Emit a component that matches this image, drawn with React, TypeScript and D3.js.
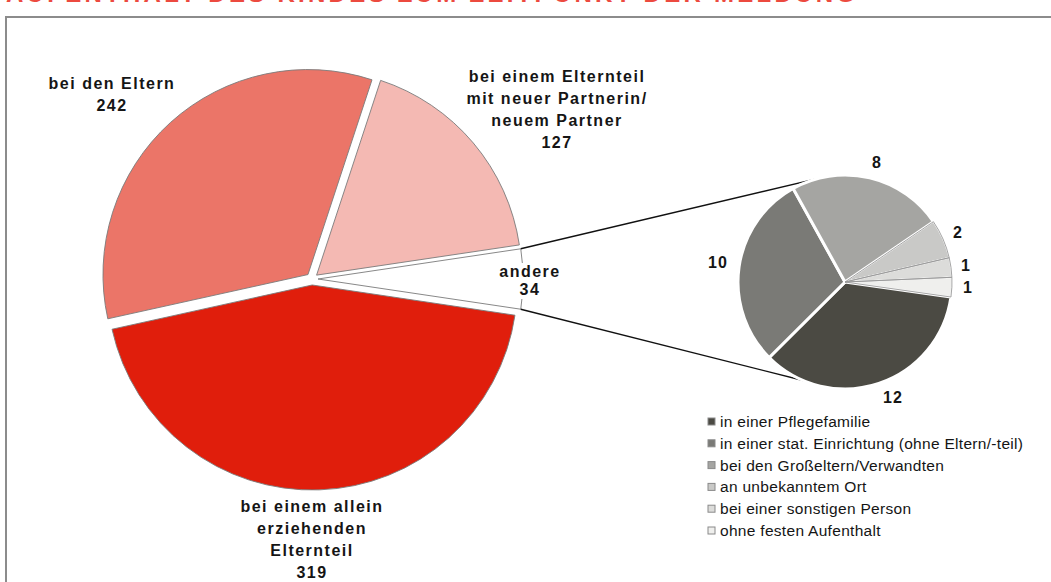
import React from "react";
import * as d3 from "d3";

const titleText = "AUFENTHALT DES KINDES ZUM ZEITPUNKT DER MELDUNG";

const mainCategories = [
  "bei den Eltern",
  "bei einem Elternteil mit neuer Partnerin/neuem Partner",
  "andere",
  "bei einem allein erziehenden Elternteil",
];
const mainValues = [242, 127, 34, 319];
const mainLabelLines = [
  ["bei den Eltern"],
  ["bei einem Elternteil", "mit neuer Partnerin/", "neuem Partner"],
  ["andere"],
  ["bei einem allein", "erziehenden", "Elternteil"],
];
const mainColors = ["#eb7568", "#f4b9b3", "#ffffff", "#e01e0c"];

const otherCategories = [
  "in einer Pflegefamilie",
  "in einer stat. Einrichtung (ohne Eltern/-teil)",
  "bei den Großeltern/Verwandten",
  "an unbekanntem Ort",
  "bei einer sonstigen Person",
  "ohne festen Aufenthalt",
];
const otherValues = [12, 10, 8, 2, 1, 1];
const otherColors = ["#4b4a43", "#7a7a76", "#a5a5a2", "#c9c9c7", "#dcdcda", "#efefed"];

// layout
const W = 1051, H = 582;
const mainC = { x: 312, y: 279 };
const mainR = 205;
const explode = 6;
const smallC = { x: 845, y: 282 };
const smallR = 107;
const deg = Math.PI / 180;

const mainLabelPos = [
  { x: 112, y: 89, step: 21.5 },
  { x: 557, y: 82, step: 22 },
  { x: 530, y: 277, step: 18 },
  { x: 312, y: 512, step: 22 },
];
const smallLabelPos = [
  { x: 893, y: 403 },
  { x: 718, y: 268 },
  { x: 877, y: 168 },
  { x: 958, y: 238 },
  { x: 966, y: 271 },
  { x: 968, y: 293 },
];

export default function App() {
  const total = d3.sum(mainValues);
  // center "andere" at 3 o'clock
  const before = mainValues[0] + mainValues[1] + mainValues[2] / 2;
  const start = (90 - (before / total) * 360) * deg;
  const mainPie = d3.pie<number>().sort(null).startAngle(start).endAngle(start + 2 * Math.PI);
  const mainArcs = mainPie(mainValues);
  const arc = d3.arc<d3.PieArcDatum<number>>().innerRadius(0).outerRadius(mainR);

  const otherTotal = d3.sum(otherValues);
  const smallStart = (-29 + ((otherValues[2] + otherValues[3] + otherValues[4] + otherValues[5]) / otherTotal) * 360) * deg;
  const smallPie = d3.pie<number>().sort(null).startAngle(smallStart).endAngle(smallStart + 2 * Math.PI);
  const smallArcs = smallPie(otherValues);
  const sArc = d3.arc<d3.PieArcDatum<number>>().innerRadius(0).outerRadius(smallR);

  const offs = mainArcs.map((a) => {
    const m = (a.startAngle + a.endAngle) / 2;
    return { dx: explode * Math.sin(m), dy: -explode * Math.cos(m) };
  });

  const andere = mainArcs[2];
  const ao = offs[2];
  const p1 = {
    x: mainC.x + ao.dx + mainR * Math.sin(andere.startAngle),
    y: mainC.y + ao.dy - mainR * Math.cos(andere.startAngle),
  };
  const p2 = {
    x: mainC.x + ao.dx + mainR * Math.sin(andere.endAngle),
    y: mainC.y + ao.dy - mainR * Math.cos(andere.endAngle),
  };
  const q1 = { x: smallC.x + smallR * Math.sin(-12 * deg), y: smallC.y - smallR * Math.cos(-12 * deg) };
  const q2 = { x: smallC.x + smallR * Math.sin(203 * deg), y: smallC.y - smallR * Math.cos(203 * deg) };

  const labelFont = "'Liberation Sans', Arial, sans-serif";

  return (
    <svg
      width={W}
      height={H}
      style={{ position: "absolute", left: 0, top: 0, background: "#fff" }}
      fontFamily={labelFont}
    >
      <text x={6} y={2} fill="#ec4a3f" fontSize={24} fontWeight="bold" textLength={849} lengthAdjust="spacing">
        {titleText}
      </text>
      <path d={`M6,${H + 5} V17 H${W + 5}`} fill="none" stroke="#8c8c8c" strokeWidth={2} />

      {/* main pie */}
      <g>
        {mainArcs.map((a, i) => (
          <path
            key={mainCategories[i]}
            d={arc(a) || ""}
            transform={`translate(${mainC.x + offs[i].dx},${mainC.y + offs[i].dy})`}
            fill={mainColors[i]}
            stroke="#7a7a7a"
            strokeWidth={0.9}
          />
        ))}
      </g>

      {/* connector lines */}
      <line x1={p1.x} y1={p1.y} x2={q1.x} y2={q1.y} stroke="#111" strokeWidth={1.4} />
      <line x1={p2.x} y1={p2.y} x2={q2.x} y2={q2.y} stroke="#111" strokeWidth={1.4} />

      {/* small pie */}
      <g transform={`translate(${smallC.x},${smallC.y})`}>
        {smallArcs.map((a, i) => (
          <path key={otherCategories[i]} d={sArc(a) || ""} fill={otherColors[i]} stroke="#fff" strokeWidth={i < 3 ? 3 : 1.5} />
        ))}
        {smallArcs.map((a, i) =>
          i >= 3 ? (
            <path key={"o" + i} d={sArc(a) || ""} fill="none" stroke="#9a9a9a" strokeWidth={0.9} />
          ) : null
        )}
      </g>

      {/* main labels */}
      {mainLabelLines.map((lines, i) => {
        const p = mainLabelPos[i];
        const all = [...lines, String(mainValues[i])];
        return (
          <g key={"ml" + i}>
            {i === 2 ? <rect x={p.x - 31} y={p.y - 14} width={62} height={36} fill="#fff" /> : null}
            <text textAnchor="middle" fontSize={16} fontWeight="bold" fill="#151515" letterSpacing={1.5}>
              {all.map((t, j) => (
                <tspan key={j} x={p.x} y={p.y + j * p.step}>
                  {t}
                </tspan>
              ))}
            </text>
          </g>
        );
      })}

      {/* small labels */}
      {otherValues.map((v, i) => (
        <text
          key={"sl" + i}
          x={smallLabelPos[i].x}
          y={smallLabelPos[i].y}
          textAnchor="middle"
          fontSize={16}
          fontWeight="bold"
          fill="#151515"
          letterSpacing={1}
        >
          {v}
        </text>
      ))}

      {/* legend */}
      <g>
        {otherCategories.map((c, i) => {
          const y = 422 + i * 21.8;
          return (
            <g key={"lg" + i}>
              <rect x={708} y={y - 4} width={7} height={7} fill={otherColors[i]} stroke="#8a8a8a" strokeWidth={1} />
              <text x={720} y={y + 5} fontSize={15.5} fill="#151515" letterSpacing={0.3}>
                {c}
              </text>
            </g>
          );
        })}
      </g>
    </svg>
  );
}
